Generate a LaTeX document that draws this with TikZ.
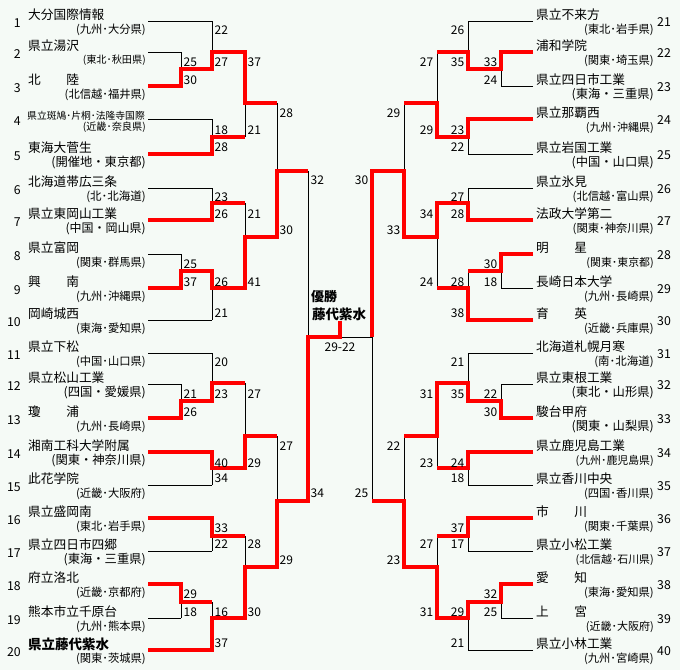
\documentclass[tikz,border=0pt]{standalone}
\usepackage{fontspec}
\setmainfont{Noto Sans CJK JP}
\definecolor{bgc}{RGB}{245,250,246}
\definecolor{win}{RGB}{255,0,0}
\newcommand\fs[1]{\fontsize{#1}{#1}\selectfont}
% bracket skeleton: columns c0..c5
\newcommand\skel[6]{%
 \draw[bl] (#1,21)--(#3,21) (#1,52)--(#2,52) (#1,86)--(#2,86) (#1,119)--(#3,119) (#1,154)--(#3,154)
  (#1,188)--(#3,188) (#1,220)--(#3,220) (#1,254)--(#2,254) (#1,288)--(#2,288) (#1,320)--(#3,320)
  (#1,353)--(#3,353) (#1,384)--(#2,384) (#1,418)--(#2,418) (#1,452)--(#3,452) (#1,485)--(#3,485)
  (#1,518)--(#3,518) (#1,551)--(#3,551) (#1,584)--(#2,584) (#1,618)--(#2,618) (#1,650)--(#3,650);
 \draw[bl] (#2,52)--(#2,86) (#2,254)--(#2,288) (#2,384)--(#2,418) (#2,584)--(#2,618);
 \draw[bl] (#2,69)--(#3,69) (#2,271)--(#3,271) (#2,401)--(#3,401) (#2,602)--(#3,602);
 \draw[bl] (#3,21)--(#3,69) (#3,119)--(#3,154) (#3,188)--(#3,220) (#3,271)--(#3,320)
  (#3,353)--(#3,401) (#3,452)--(#3,485) (#3,518)--(#3,551) (#3,602)--(#3,650);
 \draw[bl] (#3,52)--(#4,52) (#3,137)--(#4,137) (#3,203)--(#4,203) (#3,288)--(#4,288)
  (#3,383)--(#4,383) (#3,468)--(#4,468) (#3,536)--(#4,536) (#3,618)--(#4,618);
 \draw[bl] (#4,52)--(#4,137) (#4,203)--(#4,288) (#4,383)--(#4,468) (#4,536)--(#4,618);
 \draw[bl] (#4,103)--(#5,103) (#4,237)--(#5,237) (#4,436)--(#5,436) (#4,567)--(#5,567);
 \draw[bl] (#5,103)--(#5,237) (#5,436)--(#5,567);
 \draw[bl] (#5,171)--(#6,171) (#5,501)--(#6,501);
 \draw[bl] (#6,171)--(#6,501);
}
% left team: num, line y, name, pref, pref size
\newcommand\lteam[5]{%
 \node[num,anchor=east] (ln#1) at (21,#2+2) {#1};
 \node[nm] (lt#1) at (28,#2-6) {#3};
 \node[pf,anchor=east,font=\fs{#5}] (lp#1) at (146,#2+8.5) {#4};
}
\newcommand\rteam[5]{%
 \node[num,anchor=west] (rn#1) at (657,#2+1) {#1};
 \node[nm] (rt#1) at (536,#2-6) {#3};
 \node[pf,anchor=east,font=\fs{#5}] (rp#1) at (654,#2+8.5) {#4};
}
\newcommand\ls[3]{\node[sc,anchor=west] (ls#1x#2) at (#1+2.5,#2) {#3};}
\newcommand\rs[3]{\node[sc,anchor=east] (rs#1x#2) at (#1-3.5,#2) {#3};}
\begin{document}
\begin{tikzpicture}[x=1pt,y=-1pt,
  bl/.style={line width=1pt,black},
  rd/.style={line width=4pt,win,line join=miter},
  nm/.style={anchor=west,inner sep=0pt,font=\fs{12.7}},
  pf/.style={inner sep=0pt},
  num/.style={inner sep=0pt,font=\fs{12.3}},
  sc/.style={inner sep=0pt,font=\fs{12}}]
\fill[bgc] (0,0) rectangle (680,670);
\useasboundingbox (0,0) rectangle (680,670);
% skeletons
\skel{148}{181}{212}{245}{277}{308}
\skel{533}{501}{468}{437}{404}{372}
\draw[bl] (308,337)--(372,337);
% red winner paths, left
\draw[rd] (148,86)--(181,86)--(181,69)--(212,69)--(212,52)--(245,52)--(245,103)--(277,103);
\draw[rd] (148,154)--(212,154)--(212,137)--(245,137);
\draw[rd] (148,220)--(212,220)--(212,203)--(245,203);
\draw[rd] (148,288)--(181,288)--(181,271)--(212,271)--(212,288)--(245,288)--(245,237)--(277,237)--(277,171)--(308,171);
\draw[rd] (148,418)--(181,418)--(181,401)--(212,401)--(212,383)--(245,383);
\draw[rd] (148,452)--(212,452)--(212,468)--(245,468)--(245,436)--(277,436);
\draw[rd] (148,518)--(212,518)--(212,536)--(245,536);
\draw[rd] (148,584)--(181,584)--(181,602)--(212,602);
\draw[rd] (148,650)--(212,650)--(212,618)--(245,618)--(245,567)--(277,567)--(277,501)--(308,501)--(308,337)--(340,337)--(340,321);
% red winner paths, right
\draw[rd] (533,52)--(501,52)--(501,69)--(468,69)--(468,52)--(437,52);
\draw[rd] (533,119)--(468,119)--(468,137)--(437,137)--(437,103)--(404,103);
\draw[rd] (533,220)--(468,220)--(468,203)--(437,203)--(437,237)--(404,237)--(404,171)--(372,171)--(372,337);
\draw[rd] (533,254)--(501,254)--(501,271)--(468,271);
\draw[rd] (533,320)--(468,320)--(468,288)--(437,288);
\draw[rd] (533,418)--(501,418)--(501,401)--(468,401)--(468,383)--(437,383)--(437,436)--(404,436);
\draw[rd] (533,452)--(468,452)--(468,468)--(437,468);
\draw[rd] (533,518)--(468,518)--(468,536)--(437,536);
\draw[rd] (533,584)--(501,584)--(501,602)--(468,602)--(468,618)--(437,618)--(437,567)--(404,567)--(404,501)--(372,501);
% left teams
\lteam{1}{21}{大分国際情報}{(九州･大分県)}{11.3}
\lteam{2}{52}{県立湯沢}{(東北･秋田県)}{10.2}
\lteam{3}{86}{北　　陸}{(北信越･福井県)}{11.3}
\node[num,anchor=east] (ln4) at (21,121) {4};
\node[nm,font=\fs{9.8}] (lt4) at (27,116) {県立斑鳩･片桐･法隆寺国際};
\node[pf,anchor=east,font=\fs{10.2}] (lp4) at (146,127.5) {(近畿･奈良県)};
\lteam{5}{154}{東海大菅生}{(開催地・東京都)}{12.3}
\lteam{6}{188}{北海道帯広三条}{(北･北海道)}{11.5}
\lteam{7}{220}{県立東岡山工業}{(中国・岡山県)}{12}
\lteam{8}{254}{県立富岡}{(関東･群馬県)}{11.3}
\lteam{9}{288}{興　　南}{(九州･沖縄県)}{11.3}
\lteam{10}{320}{岡崎城西}{(東海･愛知県)}{11.3}
\lteam{11}{353}{県立下松}{(中国･山口県)}{11.3}
\lteam{12}{384}{県立松山工業}{(四国・愛媛県)}{12.3}
\lteam{13}{418}{瓊　　浦}{(九州･長崎県)}{11.3}
\lteam{14}{452}{湘南工科大学附属}{(関東・神奈川県)}{12.3}
\lteam{15}{485}{此花学院}{(近畿･大阪府)}{11.3}
\lteam{16}{518}{県立盛岡南}{(東北･岩手県)}{11.3}
\lteam{17}{551}{県立四日市四郷}{(東海・三重県)}{12.3}
\lteam{18}{584}{府立洛北}{(近畿･京都府)}{11.3}
\lteam{19}{618}{熊本市立千原台}{(九州･熊本県)}{11.3}
\lteam{20}{650}{\fs{13.5}\bfseries 県立藤代紫水}{(関東･茨城県)}{11.3}
% right teams
\rteam{21}{21}{県立不来方}{(東北･岩手県)}{11.3}
\rteam{22}{52}{浦和学院}{(関東･埼玉県)}{11.3}
\rteam{23}{86}{県立四日市工業}{(東海・三重県)}{12.3}
\rteam{24}{119}{県立那覇西}{(九州･沖縄県)}{11}
\rteam{25}{154}{県立岩国工業}{(中国・山口県)}{12.3}
\rteam{26}{188}{県立氷見}{(北信越･富山県)}{11.3}
\rteam{27}{220}{法政大学第二}{(関東･神奈川県)}{11.3}
\rteam{28}{254}{明　　星}{(関東･東京都)}{10.9}
\rteam{29}{288}{長崎日本大学}{(九州･長崎県)}{11.3}
\rteam{30}{320}{育　　英}{(近畿･兵庫県)}{11.3}
\rteam{31}{353}{北海道札幌月寒}{(南･北海道)}{11.5}
\rteam{32}{384}{県立東根工業}{(東北・山形県)}{12.3}
\rteam{33}{418}{駿台甲府}{(関東・山梨県)}{12.3}
\rteam{34}{452}{県立鹿児島工業}{(九州･鹿児島県)}{10.9}
\rteam{35}{485}{県立香川中央}{(四国･香川県)}{11.3}
\rteam{36}{518}{市　　川}{(関東･千葉県)}{11.3}
\rteam{37}{551}{県立小松工業}{(北信越･石川県)}{10.9}
\rteam{38}{584}{愛　　知}{(東海･愛知県)}{11.3}
\rteam{39}{618}{上　　宮}{(近畿･大阪府)}{11}
\rteam{40}{650}{県立小林工業}{(九州･宮崎県)}{11.3}
% left scores
\ls{212}{30}{22} \ls{181}{62}{25} \ls{212}{62}{27} \ls{245}{62}{37} \ls{181}{80}{30}
\ls{277}{113}{28} \ls{212}{130}{18} \ls{245}{130}{21} \ls{212}{147}{28}
\ls{308}{180}{32} \ls{212}{197}{23} \ls{212}{214}{26} \ls{245}{214}{21} \ls{277}{230}{30}
\ls{181}{264}{25} \ls{181}{282}{37} \ls{212}{282}{26} \ls{245}{282}{41} \ls{212}{313}{21}
\ls{212}{362}{20} \ls{181}{394}{21} \ls{212}{394}{23} \ls{245}{394}{27} \ls{181}{412}{26}
\ls{277}{446}{27} \ls{212}{463}{40} \ls{245}{463}{29} \ls{212}{478}{34} \ls{308}{493}{34}
\ls{212}{528}{33} \ls{212}{544}{22} \ls{245}{544}{28} \ls{277}{560}{29}
\ls{181}{594}{29} \ls{181}{612}{18} \ls{212}{612}{16} \ls{245}{612}{30} \ls{212}{643}{37}
% right scores
\rs{468}{30}{26} \rs{437}{62}{27} \rs{468}{62}{35} \rs{501}{62}{33} \rs{501}{80}{24}
\rs{404}{113}{29} \rs{437}{130}{29} \rs{468}{130}{23} \rs{468}{147}{22}
\rs{372}{180}{30} \rs{468}{197}{27} \rs{437}{214}{34} \rs{468}{214}{28} \rs{404}{230}{33}
\rs{501}{264}{30} \rs{437}{282}{24} \rs{468}{282}{28} \rs{501}{282}{18} \rs{468}{313}{38}
\rs{468}{362}{21} \rs{437}{394}{31} \rs{468}{394}{35} \rs{501}{394}{22} \rs{501}{412}{30}
\rs{404}{446}{22} \rs{437}{463}{23} \rs{468}{463}{24} \rs{468}{478}{18} \rs{372}{493}{25}
\rs{468}{528}{37} \rs{437}{544}{27} \rs{468}{544}{17} \rs{404}{560}{23}
\rs{501}{594}{32} \rs{437}{612}{31} \rs{468}{612}{29} \rs{501}{612}{25} \rs{468}{643}{21}
% champion
\node[anchor=west,inner sep=0pt,font=\fs{13}\bfseries] (yusho) at (311,297) {優勝};
\node[anchor=west,inner sep=0pt,font=\fs{13.5}\bfseries] (champ) at (312,314) {藤代紫水};
\node[inner sep=0pt,font=\fs{12}] (final) at (340,347) {29-22};
\end{tikzpicture}
\end{document}
